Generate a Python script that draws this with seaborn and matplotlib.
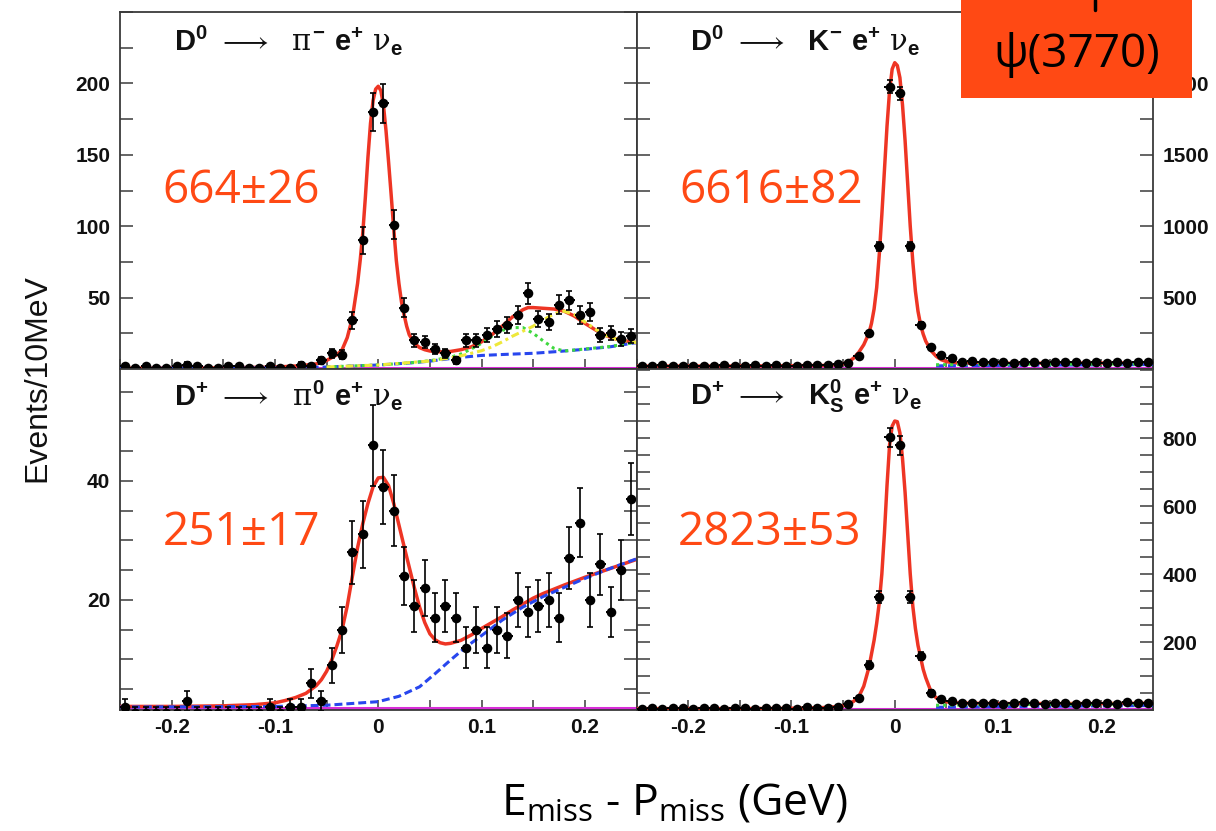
import numpy as np
import matplotlib
matplotlib.use("Agg")
import matplotlib.pyplot as plt
from matplotlib.ticker import FixedLocator, FixedFormatter, MultipleLocator
from matplotlib.patches import Rectangle
from matplotlib.lines import Line2D
import seaborn as sns

# ---------------------------------------------------------------- data ----
# 10 MeV bins across the U = E_miss - P_miss window
BIN_CENTERS = np.round(np.linspace(-0.245, 0.245, 50), 3)
BIN_HALF_WIDTH = 0.005

# D0 -> pi- e+ nu
PI_COUNTS = [2, 1, 2, 1, 1, 2, 3, 2, 1, 1, 2, 2, 1, 1, 2, 1, 1, 3, 2, 6,
             11, 10, 34, 90, 180, 186, 101, 43, 20, 19, 14, 11, 6, 20, 20,
             24, 28, 31, 38, 53, 35, 33, 45, 48, 38, 40, 24, 25, 21, 23]
PI_FIT_X = [-0.25, -0.15, -0.1, -0.075, -0.06, -0.05, -0.04, -0.035, -0.03, -0.025,
            -0.02, -0.0175, -0.015, -0.0125, -0.01, -0.0075, -0.005, -0.0025, 0.0,
            0.0025, 0.005, 0.0075, 0.01, 0.0125, 0.015, 0.0175, 0.02, 0.0225, 0.025,
            0.0275, 0.03, 0.035, 0.04, 0.045, 0.05, 0.06, 0.07, 0.08, 0.09, 0.1,
            0.11, 0.12, 0.13, 0.14, 0.145, 0.15, 0.16, 0.17, 0.18, 0.19, 0.2,
            0.21, 0.22, 0.23, 0.24, 0.25]
PI_FIT_Y = [0.6, 0.8, 1.3, 2.3, 3.6, 6.0, 10.0, 13.5, 22.0, 36.0,
            60.0, 76.0, 95.0, 120.0, 148.0, 172.0, 188.0, 196.0, 198.0,
            195.0, 185.0, 167.0, 145.0, 122.0, 98.0, 76.0, 60.0, 47.0, 38.0,
            30.0, 24.0, 18.0, 15.0, 13.5, 12.6, 12.0, 12.3, 13.5, 15.5, 19.0,
            24.0, 30.0, 36.5, 41.5, 43.0, 43.0, 42.5, 42.0, 40.5, 37.0, 32.0,
            27.5, 23.5, 21.0, 19.5, 18.5]
PI_COMB_X = [-0.25, -0.15, -0.1, -0.05, 0.0, 0.03, 0.05, 0.075, 0.1, 0.125, 0.15,
             0.175, 0.2, 0.225, 0.25]
PI_COMB_Y = [0.5, 0.6, 0.8, 1.4, 2.8, 4.2, 5.5, 7.8, 9.5, 10.3, 11.0, 12.3, 13.8,
             15.6, 18.5]
PI_RHO_X = [-0.05, 0.0, 0.03, 0.05, 0.07, 0.08, 0.09, 0.1, 0.11, 0.12, 0.13, 0.14,
            0.15, 0.16, 0.17, 0.18, 0.2, 0.225, 0.25]
PI_RHO_Y = [1.4, 2.8, 4.3, 5.8, 8.2, 10.5, 14.0, 18.0, 23.0, 27.0, 29.0, 29.0,
            25.0, 19.5, 14.5, 12.6, 14.0, 15.8, 18.7]
PI_OTHER_X = [-0.05, 0.0, 0.05, 0.07, 0.08, 0.09, 0.1, 0.11, 0.12, 0.13, 0.14, 0.15,
              0.16, 0.17, 0.18, 0.19, 0.2, 0.21, 0.22, 0.23, 0.24, 0.25]
PI_OTHER_Y = [1.4, 2.8, 5.6, 7.8, 9.2, 11.0, 12.8, 15.5, 19.0, 23.0, 26.5, 30.0,
              34.5, 38.5, 40.5, 38.0, 33.0, 28.0, 23.5, 21.0, 19.5, 18.5]

# D0 -> K- e+ nu
K_COUNTS = [22, 18, 25, 20, 23, 19, 24, 21, 26, 22, 20, 25, 23, 27, 24, 22, 28,
            26, 30, 33, 45, 90, 250, 859, 1978, 1931, 859, 311, 155, 95, 76, 52,
            55, 50, 47, 52, 45, 48, 51, 44, 49, 46, 50, 43, 47, 45, 48, 44, 46, 49]
K_FIT_X = [-0.25, -0.15, -0.1, -0.07, -0.055, -0.05, -0.045, -0.04, -0.035, -0.03,
           -0.025, -0.0225, -0.02, -0.0175, -0.015, -0.0125, -0.01, -0.0075, -0.005,
           -0.0025, 0.0, 0.0025, 0.005, 0.0075, 0.01, 0.0125, 0.015, 0.0175, 0.02,
           0.0225, 0.025, 0.0275, 0.03, 0.035, 0.04, 0.045, 0.05, 0.055, 0.06, 0.07,
           0.1, 0.15, 0.2, 0.25]
K_FIT_Y = [20, 21, 23, 25, 30, 36, 50, 75, 115, 170,
           250, 320, 420, 570, 800, 1080, 1390, 1700, 1950,
           2100, 2145, 2125, 2040, 1850, 1600, 1300, 1000, 750, 545,
           405, 310, 245, 195, 130, 90, 65, 52, 45, 42, 40,
           40, 41, 42, 43]
K_COMB_X = [0.04, 0.1, 0.15, 0.2, 0.25]
K_COMB_Y = [22, 25, 27, 29, 31]
K_OTHER_X = [0.04, 0.1, 0.15, 0.2, 0.25]
K_OTHER_Y = [30, 33, 34, 35, 36]

# D+ -> pi0 e+ nu
PI0_COUNTS = [2, 1, 1, 1, 1, 1, 3, 1, 1, 1, 1, 1, 1, 1, 2, 1, 2, 2, 6, 3,
              9, 15, 28, 31, 46, 39, 35, 24, 19, 22, 17, 19, 17, 12, 15,
              12, 15, 14, 20, 18, 19, 20, 17, 27, 33, 20, 26, 18, 25, 37]
PI0_FIT_X = [-0.25, -0.2, -0.15, -0.12, -0.1, -0.09, -0.08, -0.07, -0.06, -0.055,
             -0.05, -0.045, -0.04, -0.035, -0.03, -0.025, -0.02, -0.015, -0.01, -0.005,
             0.0, 0.005, 0.01, 0.015, 0.02, 0.025, 0.03, 0.035, 0.04, 0.045,
             0.05, 0.055, 0.06, 0.065, 0.07, 0.08, 0.09, 0.1, 0.11, 0.12,
             0.13, 0.14, 0.15, 0.16, 0.18, 0.2, 0.22, 0.25]
PI0_FIT_Y = [2.1, 2.1, 2.2, 2.4, 2.7, 3.1, 3.6, 4.3, 5.6, 6.6,
             8.0, 9.9, 12.3, 15.0, 19.0, 24.0, 28.8, 32.8, 36.2, 39.0,
             40.5, 40.6, 39.2, 36.2, 32.6, 29.0, 25.5, 22.0, 18.8, 16.2,
             14.3, 13.3, 12.8, 12.6, 12.7, 13.2, 14.1, 15.2, 16.2, 17.2,
             18.3, 19.3, 20.3, 21.1, 22.5, 23.8, 25.0, 26.8]
PI0_COMB_X = [-0.25, -0.1, -0.05, 0.0, 0.02, 0.04, 0.055, 0.07, 0.085, 0.1, 0.12,
              0.14, 0.16, 0.18, 0.2, 0.22, 0.25]
PI0_COMB_Y = [2.0, 2.1, 2.3, 2.9, 3.8, 5.4, 7.6, 9.9, 12.1, 14.0, 16.6, 18.8,
              20.6, 22.1, 23.6, 25.0, 26.9]

# D+ -> K0S e+ nu
KS_COUNTS = [4, 6, 3, 5, 7, 4, 5, 6, 3, 5, 6, 4, 7, 5, 6, 4, 8, 6, 7, 10,
             18, 34, 132, 333, 802, 779, 333, 159, 51, 33, 26, 22,
             21, 20, 22, 19, 21, 23, 20, 18, 22, 21, 19, 20, 22, 21, 19, 23, 20, 22]
KS_FIT_X = [-0.25, -0.15, -0.1, -0.07, -0.055, -0.05, -0.045, -0.04, -0.035, -0.03,
            -0.025, -0.0225, -0.02, -0.0175, -0.015, -0.0125, -0.01, -0.0075, -0.005,
            -0.0025, 0.0, 0.0025, 0.005, 0.0075, 0.01, 0.0125, 0.015, 0.0175, 0.02,
            0.0225, 0.025, 0.0275, 0.03, 0.035, 0.04, 0.045, 0.05, 0.06, 0.07, 0.1,
            0.15, 0.2, 0.25]
KS_FIT_Y = [4, 4, 5, 7, 10, 13, 18, 25, 38, 70,
            125, 165, 205, 255, 315, 400, 520, 660, 780,
            835, 850, 848, 815, 740, 640, 520, 400, 305, 240,
            190, 155, 120, 95, 55, 36, 28, 24, 21, 20, 19,
            19, 19, 20]
KS_COMB_X = [0.04, 0.1, 0.15, 0.2, 0.25]
KS_COMB_Y = [8, 10, 11, 12, 13]
KS_OTHER_X = [0.04, 0.1, 0.15, 0.2, 0.25]
KS_OTHER_Y = [14, 16, 17, 17, 18]

# flat peaking component drawn along the floor of each panel
FLOOR_LEVELS = [0.9, 9.0, 1.8, 3.0]

TITLES = [
    r"$\mathbf{D}^{\mathbf{0}}\ \longrightarrow\ \ \pi^{\mathbf{-}}\ \mathbf{e}^{\mathbf{+}}\ \nu_{\mathbf{e}}$",
    r"$\mathbf{D}^{\mathbf{0}}\ \longrightarrow\ \ \mathbf{K}^{\mathbf{-}}\ \mathbf{e}^{\mathbf{+}}\ \nu_{\mathbf{e}}$",
    r"$\mathbf{D}^{\mathbf{+}}\ \longrightarrow\ \ \pi^{\mathbf{0}}\ \mathbf{e}^{\mathbf{+}}\ \nu_{\mathbf{e}}$",
    r"$\mathbf{D}^{\mathbf{+}}\ \longrightarrow\ \ \mathbf{K}^{\mathbf{0}}_{\mathbf{S}}\ \mathbf{e}^{\mathbf{+}}\ \nu_{\mathbf{e}}$",
]
YIELDS = ["664±26", "6616±82", "251±17", "2823±53"]

Y_LIMITS = [(0, 250), (0, 2500), (1.5, 58.8), (0, 1003)]
Y_TICKS = [[50, 100, 150, 200], [500, 1000, 1500, 2000], [20, 40], [200, 400, 600, 800]]
Y_TICK_LABELS = [["50", "100", "150", "200"], ["500", "1000", "1500", "2000"],
                 ["20", "40"], ["200", "400", "600", "800"]]
Y_MINOR_STEP = [25, 250, 5, 50]
X_TICKS = [-0.2, -0.1, 0.0, 0.1, 0.2]
X_TICK_LABELS = ["-0.2", "-0.1", "0", "0.1", "0.2"]

# ---------------------------------------------------------------- style ---
sns.set_theme(style="ticks")
plt.rcParams["font.family"] = ["Liberation Sans", "DejaVu Sans"]
plt.rcParams["mathtext.fontset"] = "custom"
plt.rcParams["mathtext.rm"] = "Liberation Sans:bold"
plt.rcParams["mathtext.bf"] = "Liberation Sans:bold"
plt.rcParams["mathtext.it"] = "DejaVu Serif"
plt.rcParams["mathtext.sf"] = "Liberation Sans"

RED = "#EE3524"
BLUE = "#2846EE"
GREEN = "#3FD83F"
YELLOW = "#EEE83A"
MAGENTA = "#D82ED8"
ORANGE = "#FF4914"
FRAME = "#3a3a3a"
HAND = ["Open Sans", "DejaVu Sans"]

DASHED = (0, (2.6, 1.3))
DOTTED = (0, (1.0, 1.3))
DASHDOT = (0, (2.6, 1.3, 1.0, 1.3))

fig, axes = plt.subplots(2, 2, figsize=(12.16, 8.31), dpi=100,
                         gridspec_kw=dict(hspace=0, wspace=0, height_ratios=[357, 341]))
fig.subplots_adjust(left=120 / 1216, right=1153 / 1216, top=1 - 12 / 831, bottom=1 - 710 / 831)
fig.patch.set_facecolor("white")

panels = [
    (axes[0, 0], PI_COUNTS, [(PI_FIT_X, PI_FIT_Y, RED, "-"),
                             (PI_COMB_X, PI_COMB_Y, BLUE, DASHED),
                             (PI_RHO_X, PI_RHO_Y, GREEN, DOTTED),
                             (PI_OTHER_X, PI_OTHER_Y, YELLOW, DASHDOT)]),
    (axes[0, 1], K_COUNTS, [(K_FIT_X, K_FIT_Y, RED, "-"),
                            (K_COMB_X, K_COMB_Y, BLUE, DASHED),
                            (K_OTHER_X, K_OTHER_Y, GREEN, DOTTED)]),
    (axes[1, 0], PI0_COUNTS, [(PI0_FIT_X, PI0_FIT_Y, RED, "-"),
                              (PI0_COMB_X, PI0_COMB_Y, BLUE, DASHED)]),
    (axes[1, 1], KS_COUNTS, [(KS_FIT_X, KS_FIT_Y, RED, "-"),
                             (KS_COMB_X, KS_COMB_Y, BLUE, DASHED),
                             (KS_OTHER_X, KS_OTHER_Y, GREEN, DOTTED)]),
]

yield_pos = [(0.234, 0.465), (0.260, 0.465), (0.236, 0.484), (0.258, 0.484)]

for i, (ax, counts, curves) in enumerate(panels):
    counts = np.asarray(counts, dtype=float)
    ax.set_facecolor("white")

    # floor component
    ax.axhline(FLOOR_LEVELS[i], color=MAGENTA, lw=2.2, zorder=2)

    # fit curves
    for cx, cy, col, ls in curves:
        lw = 2.5 if ls == "-" else 2.2
        sns.lineplot(x=np.asarray(cx), y=np.asarray(cy), ax=ax, color=col, lw=lw,
                     linestyle=ls, sort=False, estimator=None, zorder=3)

    # data points with Poisson errors
    ax.errorbar(BIN_CENTERS, counts, yerr=np.sqrt(counts), fmt="none", ecolor="black",
                elinewidth=1.2, capsize=2.5, capthick=1.2, zorder=5)
    ax.errorbar(BIN_CENTERS, counts, xerr=BIN_HALF_WIDTH, fmt="none", ecolor="black",
                elinewidth=1.4, capsize=0, zorder=5)
    sns.scatterplot(x=BIN_CENTERS, y=counts, ax=ax, color="black", s=48, linewidth=0,
                    zorder=6, legend=False)

    ax.set_xlim(-0.25, 0.25)
    ax.set_ylim(*Y_LIMITS[i])
    ax.set_xlabel("")
    ax.set_ylabel("")

    ax.xaxis.set_major_locator(FixedLocator(X_TICKS))
    ax.xaxis.set_major_formatter(FixedFormatter(X_TICK_LABELS))
    ax.xaxis.set_minor_locator(MultipleLocator(0.05))
    ax.yaxis.set_major_locator(FixedLocator(Y_TICKS[i]))
    ax.yaxis.set_major_formatter(FixedFormatter(Y_TICK_LABELS[i]))
    ax.yaxis.set_minor_locator(MultipleLocator(Y_MINOR_STEP[i]))

    left_col = (i % 2 == 0)
    bottom_row = (i >= 2)
    ax.tick_params(axis="x", which="both", direction="in", bottom=True, top=False,
                   length=7, width=1.1, color=FRAME, labelbottom=bottom_row,
                   labelsize=15, pad=6, labelcolor="#111111")
    ax.tick_params(axis="y", which="both", direction="in", left=True, right=True,
                   length=9.5, width=1.1, color=FRAME, labelleft=left_col,
                   labelright=not left_col, labelsize=15, pad=7, labelcolor="#111111")
    for lab in ax.get_xticklabels() + ax.get_yticklabels():
        lab.set_fontweight("bold")
    for t in ax.yaxis.get_major_ticks():
        t.label2.set_fontweight("bold")

    for sp in ax.spines.values():
        sp.set_visible(True)
        sp.set_color(FRAME)
        sp.set_linewidth(1.3)

    ax.text(0.104, 0.893, TITLES[i], transform=ax.transAxes, fontsize=21,
            ha="left", va="baseline", color="#111111", zorder=8)
    ax.text(yield_pos[i][0], yield_pos[i][1], YIELDS[i], transform=ax.transAxes,
            fontsize=33, family=HAND, color=ORANGE, ha="center", va="baseline", zorder=8)

# resonance tag in the corner
fig.add_artist(Rectangle((961 / 1216, 1 - 98 / 831), 231 / 1216, 98 / 831,
                         transform=fig.transFigure, facecolor=ORANGE, edgecolor="none",
                         zorder=10))
fig.add_artist(Line2D([1095 / 1216, 1095 / 1216], [1.0, 1 - 10 / 831], color="black",
                      lw=2.5, transform=fig.transFigure, zorder=11))
fig.text(1077 / 1216, 1 - 67 / 831, "ψ(3770)", fontsize=33, family=HAND, color="black",
         ha="center", va="baseline", zorder=11)

# axis titles
fig.text(37.5 / 1216, 1 - 378 / 831, "Events/10MeV", rotation=90, fontsize=23,
         ha="center", va="center", color="#111111")
fig.text(674 / 1216, 1 - 815 / 831, r"E$_{\mathregular{miss}}$ - P$_{\mathregular{miss}}$ (GeV)",
         fontsize=32, family=HAND, ha="center", va="baseline", color="black")

fig.savefig("out.png", dpi=100, facecolor="white")
